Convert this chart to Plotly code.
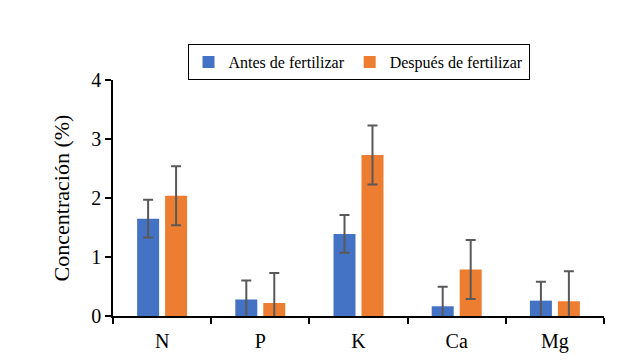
import plotly.graph_objects as go

categories = ["N", "P", "K", "Ca", "Mg"]
antes = [1.65, 0.28, 1.39, 0.165, 0.26]
antes_err = [0.32, 0.32, 0.32, 0.33, 0.32]
despues = [2.04, 0.22, 2.73, 0.79, 0.25]
despues_err = [0.50, 0.51, 0.50, 0.50, 0.51]
y_ticks = [0, 1, 2, 3, 4]

font_family = "Liberation Serif"

fig = go.Figure()
fig.add_trace(go.Bar(
    x=categories, y=antes, name="Antes de fertilizar",
    marker=dict(color="#4472C4", line=dict(width=0)),
    error_y=dict(type="data", array=antes_err, visible=True,
                 color="#595959", thickness=2, width=5),
))
fig.add_trace(go.Bar(
    x=categories, y=despues, name="Después de fertilizar",
    marker=dict(color="#ED7D31", line=dict(width=0)),
    error_y=dict(type="data", array=despues_err, visible=True,
                 color="#595959", thickness=2, width=5),
))

W, H = 616, 356
fig.update_layout(
    width=W, height=H,
    margin=dict(l=105, r=20, t=66, b=48),
    paper_bgcolor="white", plot_bgcolor="white",
    barmode="group", bargap=0.43, bargroupgap=0.214,
    font=dict(family=font_family, color="black"),
    showlegend=True,
    legend=dict(
        orientation="h", x=0.5, xanchor="center",
        yref="container", y=1 - 36 / H, yanchor="top",
        bordercolor="black", borderwidth=1, font=dict(size=16, family=font_family),
        bgcolor="white",
    ),
    xaxis=dict(
        showline=True, linecolor="black", linewidth=2,
        ticks="outside", tickson="boundaries", ticklen=6, tickwidth=2, tickcolor="black",
        tickfont=dict(size=20, family=font_family), showgrid=False, automargin=False,
        ticklabelstandoff=6,
    ),
    yaxis=dict(
        range=[0, 4], tickvals=y_ticks, showline=True, linecolor="black", linewidth=1.5,
        ticks="outside", ticklen=6, tickwidth=1.5, tickcolor="black",
        tickfont=dict(size=20, family=font_family), showgrid=False, zeroline=False,
        automargin=False,
        title=dict(text="Concentración (%)", font=dict(size=22, family=font_family), standoff=16),
    ),
)

fig.write_html("out.html")
